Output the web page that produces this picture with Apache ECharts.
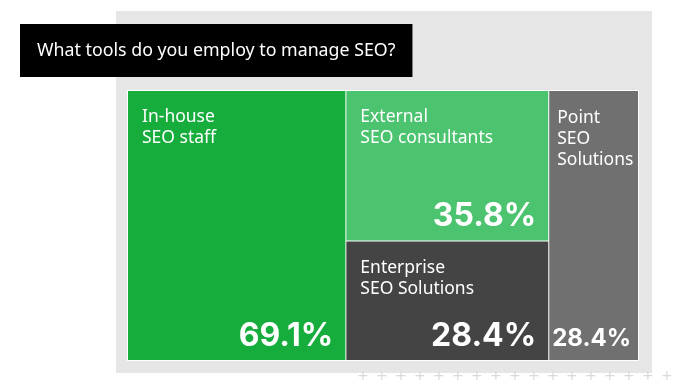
<!DOCTYPE html>
<html>
<head>
<meta charset="utf-8">
<script src="https://cdn.jsdelivr.net/npm/echarts@6/dist/echarts.min.js"></script>
<style>
html,body{margin:0;padding:0;background:#fff;}
#chart{width:673px;height:384px;}
</style>
</head>
<body>
<div id="chart"></div>
<script>
const titleText = 'What tools do you employ to manage SEO?';
const categories = ['In-house SEO staff', 'External SEO consultants', 'Enterprise SEO Solutions', 'Point SEO Solutions'];
const displayNames = ['In-house\nSEO staff', 'External\nSEO consultants', 'Enterprise\nSEO Solutions', 'Point\nSEO\nSolutions'];
const values = [69.1, 35.8, 28.4, 28.4];
const colors = ['#16ad3c', '#4cc36f', '#444444', '#707070'];

const chart = echarts.init(document.getElementById('chart'));

const FONT = "'Noto Sans', sans-serif";
const NUMFONT = "Inter, 'Liberation Sans', sans-serif";

const valueData = categories.map((c, i) => ({
  name: c,
  value: values[i],
  itemStyle: { color: colors[i] },
  label: i === 3 ? { fontSize: 24, padding: [0, 7, 9, 0] } : {}
}));
const nameData = categories.map((c, i) => ({
  name: c,
  value: values[i],
  label: { formatter: displayNames[i], padding: i === 3 ? [17, 0, 0, 8] : [16, 0, 0, 14] }
}));

const plusMarks = [];
for (let k = 0; k < 17; k++) {
  plusMarks.push({
    type: 'text', left: 357 + k * 19, top: 369,
    style: { text: '+', fill: '#d9d9d9', font: "14px 'DejaVu Sans'" },
    silent: true
  });
}

const common = {
  type: 'treemap',
  left: 127, top: 90, width: 512, height: 271,
  roam: false, nodeClick: false, sort: false,
  breadcrumb: { show: false },
  animation: false
};

chart.setOption({
  backgroundColor: '#ffffff',
  title: {
    text: titleText, left: 20, top: 24,
    backgroundColor: '#000000',
    padding: [16, 17, 16, 17],
    textStyle: { color: '#ffffff', fontSize: 17.8, fontWeight: 'normal', fontFamily: FONT, lineHeight: 21 }
  },
  graphic: [
    { type: 'rect', left: 116, top: 11, z: -10, shape: { width: 536, height: 362 }, style: { fill: '#e6e6e6' }, silent: true }
  ].concat(plusMarks),
  series: [
    Object.assign({}, common, {
      data: valueData,
      levels: [
        { itemStyle: { color: '#ffffff', borderColor: '#ffffff', borderWidth: 1, gapWidth: 1 } },
        { itemStyle: { borderWidth: 0, gapWidth: 0 } }
      ],
      label: {
        show: true, position: 'insideBottomRight', overflow: 'none',
        formatter: p => p.value.toFixed(1) + '%',
        color: '#ffffff', fontFamily: NUMFONT, fontWeight: 'bold', fontSize: 32,
        padding: [0, 12, 8, 0]
      }
    }),
    Object.assign({}, common, {
      silent: true,
      data: nameData,
      levels: [
        { itemStyle: { color: 'rgba(0,0,0,0)', borderColor: 'rgba(0,0,0,0)', borderWidth: 1, gapWidth: 1 } },
        { itemStyle: { color: 'rgba(0,0,0,0)', borderWidth: 0, gapWidth: 0 } }
      ],
      label: {
        show: true, position: 'insideTopLeft', overflow: 'none',
        color: '#ffffff', fontFamily: FONT, fontSize: 17.5, lineHeight: 21
      }
    })
  ]
});
</script>
</body>
</html>
